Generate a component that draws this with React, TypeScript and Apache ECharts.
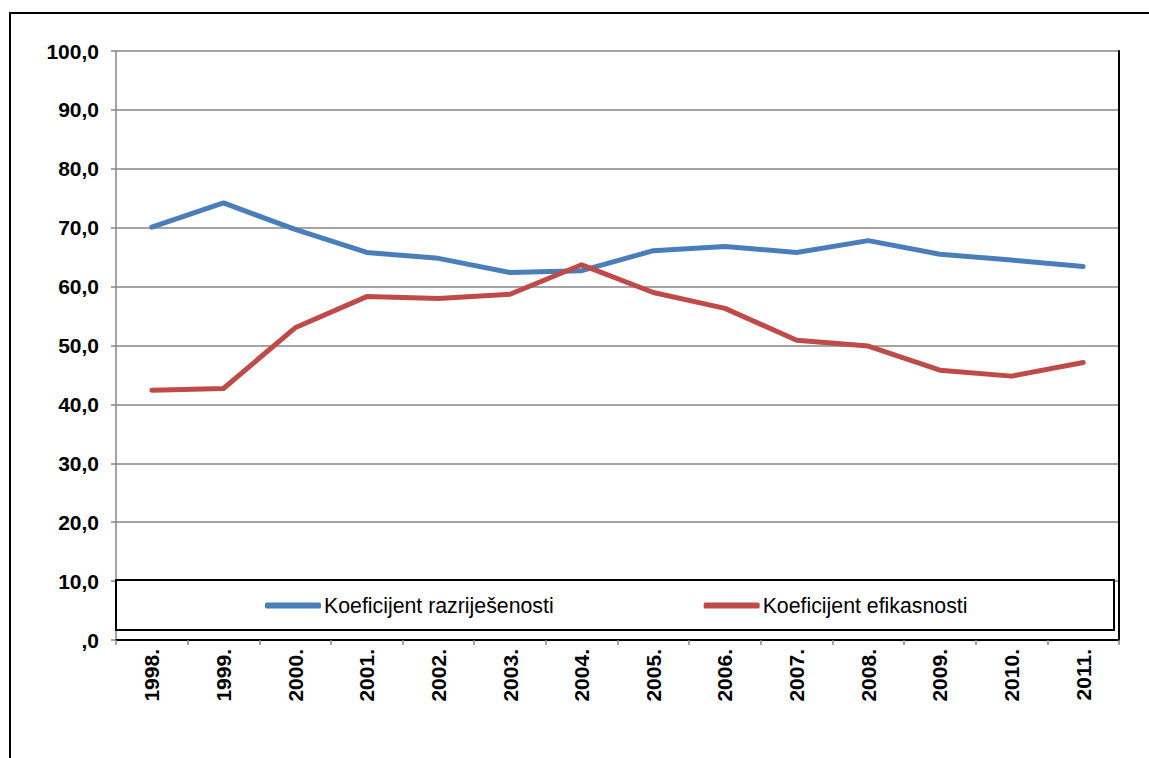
import React, { useEffect, useRef } from "react";
import * as echarts from "echarts";

const categories = ["1998.", "1999.", "2000.", "2001.", "2002.", "2003.", "2004.", "2005.", "2006.", "2007.", "2008.", "2009.", "2010.", "2011."];
const razrijesenosti = [70.1, 74.2, 69.7, 65.8, 64.8, 62.4, 62.7, 66.1, 66.8, 65.8, 67.8, 65.5, 64.5, 63.4];
const efikasnosti = [42.4, 42.7, 53.0, 58.3, 58.0, 58.7, 63.7, 59.0, 56.3, 50.9, 49.9, 45.8, 44.8, 47.1];
const seriesNames = ["Koeficijent razriješenosti", "Koeficijent efikasnosti"];

const FONT = "'Liberation Sans', Arial, sans-serif";

export default function App() {
  const ref = useRef<HTMLDivElement>(null);
  useEffect(() => {
    document.body.style.margin = "0";
    const chart = echarts.init(ref.current!, null, { renderer: "svg" });
    const gray = "#868686";
    chart.setOption({
      animation: false,
      backgroundColor: "#ffffff",
      textStyle: { fontFamily: FONT },
      grid: { left: 116, right: 30, top: 51, bottom: 118, containLabel: false },
      graphic: [
        {
          type: "rect",
          shape: { x: 10, y: 13, width: 1300, height: 900 },
          style: { fill: "none", stroke: "#000", lineWidth: 2 },
          z: 1,
        },
        {
          type: "rect",
          shape: { x: 116, y: 580, width: 998, height: 50 },
          style: { fill: "#fff", stroke: "#000", lineWidth: 2 },
          z: 10,
        },
      ],
      legend: {
        left: 265,
        top: 595,
        z: 20,
        icon: "roundRect",
        itemWidth: 56,
        itemHeight: 6,
        itemGap: 150,
        padding: 0,
        textStyle: { fontFamily: FONT, fontSize: 21.3, color: "#000", padding: [0, 0, 0, -2] },
        data: seriesNames,
      },
      xAxis: [
        {
          type: "category",
          data: categories,
          boundaryGap: true,
          axisLine: { lineStyle: { color: gray, width: 1.5 } },
          axisTick: { show: true, length: 5, lineStyle: { color: gray, width: 1.5 } },
          axisLabel: {
            rotate: 90,
            interval: 0,
            margin: 9,
            fontFamily: FONT,
            fontSize: 21,
            fontWeight: "bold",
            color: "#000",
          },
          splitLine: { show: false },
        },
        {
          type: "category",
          data: categories,
          position: "top",
          axisLine: { lineStyle: { color: "#000", width: 2 } },
          axisTick: { show: false },
          axisLabel: { show: false },
        },
      ],
      yAxis: [
        {
          type: "value",
          min: 0,
          max: 100,
          interval: 10,
          axisLine: { show: true, lineStyle: { color: gray, width: 1.5 } },
          axisTick: { show: true, length: 5, lineStyle: { color: gray, width: 1.5 } },
          axisLabel: {
            margin: 17,
            fontFamily: FONT,
            fontSize: 21,
            fontWeight: "bold",
            color: "#000",
            formatter: (v: number) => (v === 0 ? ",0" : v.toFixed(1).replace(".", ",")),
          },
          splitLine: { show: true, lineStyle: { color: gray, width: 1.5 } },
        },
        {
          type: "value",
          min: 0,
          max: 100,
          interval: 10,
          position: "right",
          axisLine: { show: true, lineStyle: { color: "#000", width: 2 } },
          axisTick: { show: false },
          axisLabel: { show: false },
          splitLine: { show: false },
        },
      ],
      series: [
        {
          name: seriesNames[0],
          type: "line",
          data: razrijesenosti,
          symbol: "none",
          color: "#4A7EBB",
          lineStyle: { color: "#4A7EBB", width: 5, cap: "round", join: "round" },
          z: 3,
        },
        {
          name: seriesNames[1],
          type: "line",
          data: efikasnosti,
          symbol: "none",
          color: "#BE4B48",
          lineStyle: { color: "#BE4B48", width: 5, cap: "round", join: "round" },
          z: 4,
        },
      ],
    });
    return () => chart.dispose();
  }, []);
  return <div ref={ref} style={{ width: 1149, height: 758 }} />;
}
